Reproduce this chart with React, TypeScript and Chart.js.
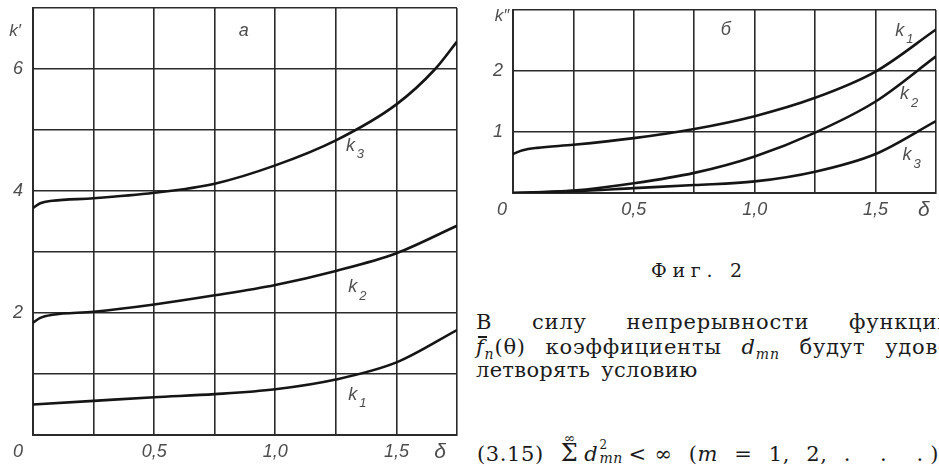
import React, { useEffect, useRef } from "react";
import { Chart, registerables } from "chart.js";

Chart.register(...registerables);

// ---- shared axis data ----
const deltaGrid = [0, 0.25, 0.5, 0.75, 1.0, 1.25, 1.5, 1.75];
const xTickValues = [0.5, 1.0, 1.5];
const xTickText = ["0,5", "1,0", "1,5"];

// ---- chart а : k' ----
const aYGrid = [0, 1, 2, 3, 4, 5, 6, 7];
const aYTickValues = [2, 4, 6];
const aYTickText = ["2", "4", "6"];
const aK1X = [0, 0.25, 0.5, 0.75, 1.0, 1.25, 1.5, 1.75];
const aK1Y = [0.5, 0.56, 0.62, 0.67, 0.75, 0.91, 1.19, 1.72];
const aK2X = [0, 0.03, 0.08, 0.25, 0.5, 0.75, 1.0, 1.25, 1.5, 1.75];
const aK2Y = [1.84, 1.92, 1.97, 2.02, 2.14, 2.29, 2.46, 2.69, 2.98, 3.43];
const aK3X = [0, 0.03, 0.08, 0.25, 0.5, 0.75, 1.0, 1.25, 1.5, 1.66, 1.75];
const aK3Y = [3.72, 3.8, 3.84, 3.88, 3.97, 4.12, 4.42, 4.83, 5.42, 6.0, 6.45];

// ---- chart б : k'' ----
const bYGrid = [0, 1, 2, 3];
const bYTickValues = [1, 2];
const bYTickText = ["1", "2"];
const bK1X = [0, 0.04, 0.1, 0.25, 0.5, 0.75, 1.0, 1.25, 1.5, 1.75];
const bK1Y = [0.64, 0.7, 0.74, 0.79, 0.9, 1.05, 1.26, 1.56, 1.99, 2.68];
const bK2X = [0, 0.25, 0.5, 0.75, 1.0, 1.25, 1.5, 1.75];
const bK2Y = [0.0, 0.04, 0.16, 0.33, 0.6, 0.99, 1.5, 2.24];
const bK3X = [0, 0.25, 0.5, 0.75, 1.0, 1.25, 1.5, 1.75];
const bK3Y = [0.0, 0.03, 0.08, 0.13, 0.19, 0.35, 0.64, 1.18];

// curve labels (data coordinates)
const aLabelNames = ["k|3", "k|2", "k|1", "а"];
const aLabelX = [1.31, 1.32, 1.32, 0.87];
const aLabelY = [4.74, 2.42, 0.66, 6.62];
const bLabelNames = ["k|1", "k|2", "k|3", "б"];
const bLabelX = [1.6, 1.62, 1.63, 0.88];
const bLabelY = [2.66, 1.62, 0.62, 2.67];

const INK = "#151515";
const GRID = "#2b2b2b";
const LABEL = "#4d4d4d";
const SANS = '"Liberation Sans", Arial, sans-serif';

function pts(xs: number[], ys: number[]) {
  return xs.map((x, i) => ({ x, y: ys[i] }));
}

function curve(xs: number[], ys: number[]) {
  return {
    data: pts(xs, ys),
    borderColor: INK,
    borderWidth: 2.6,
    pointRadius: 0,
    fill: false,
    showLine: true,
    cubicInterpolationMode: "monotone" as const,
  };
}

function makeExtras(opts: {
  names: string[]; xs: number[]; ys: number[];
  yTickValues: number[]; yTickText: string[];
  axisName: string; axisDx: number; axisDy: number;
  originDx: number; deltaAt: number;
}) {
  return {
    id: "extras",
    afterDraw(chart: any) {
      const ctx = chart.ctx as CanvasRenderingContext2D;
      const xs = chart.scales.x;
      const ys = chart.scales.y;
      const area = chart.chartArea;
      const f = (s: number) => `italic ${s}px ${SANS}`;
      ctx.save();
      ctx.fillStyle = LABEL;
      ctx.textBaseline = "middle";
      ctx.textAlign = "center";
      // x tick labels
      const ly = area.bottom + 17;
      ctx.font = f(18);
      xTickValues.forEach((v, i) => ctx.fillText(xTickText[i], xs.getPixelForValue(v), ly));
      // y tick labels
      opts.yTickValues.forEach((v, i) => ctx.fillText(opts.yTickText[i], area.left - 15, ys.getPixelForValue(v)));
      // origin "0" and δ
      ctx.fillText("0", area.left + opts.originDx, ly);
      ctx.font = f(21);
      ctx.fillText("δ", xs.getPixelForValue(opts.deltaAt), ly);
      // curve labels
      opts.names.forEach((n, i) => {
        const px = xs.getPixelForValue(opts.xs[i]);
        const py = ys.getPixelForValue(opts.ys[i]);
        const [main, sub] = n.split("|");
        ctx.font = f(18);
        ctx.fillText(main, px, py);
        if (sub) {
          ctx.font = f(13);
          ctx.fillText(sub, px + 10, py + 9);
        }
      });
      // axis name k' / k''
      ctx.font = f(17);
      ctx.fillText(opts.axisName, area.left + opts.axisDx, area.top + opts.axisDy);
      ctx.restore();
    },
  };
}

function makeConfig(datasets: any[], yGrid: number[], yMax: number, padding: any, extras: any) {
  const axisCommon = {
    type: "linear" as const,
    min: 0,
    ticks: { display: false, autoSkip: false },
    grid: { color: GRID, lineWidth: 1.6, drawTicks: false },
    border: { color: GRID, width: 2 },
  };
  return {
    type: "scatter" as const,
    data: { datasets },
    plugins: [extras],
    options: {
      animation: false as const,
      responsive: false,
      maintainAspectRatio: false,
      layout: { padding },
      plugins: { legend: { display: false }, tooltip: { enabled: false }, title: { display: false } },
      scales: {
        x: {
          ...axisCommon,
          max: 1.75,
          afterBuildTicks: (axis: any) => { axis.ticks = deltaGrid.map((v) => ({ value: v })); },
        },
        y: {
          ...axisCommon,
          max: yMax,
          afterBuildTicks: (axis: any) => { axis.ticks = yGrid.map((v) => ({ value: v })); },
        },
      },
    },
  };
}

export default function App() {
  const leftRef = useRef<HTMLCanvasElement>(null);
  const rightRef = useRef<HTMLCanvasElement>(null);

  useEffect(() => {
    const left = new Chart(
      leftRef.current as HTMLCanvasElement,
      makeConfig(
        [curve(aK1X, aK1Y), curve(aK2X, aK2Y), curve(aK3X, aK3Y)],
        aYGrid, 7,
        { left: 33, right: 13, top: 8, bottom: 31 },
        makeExtras({ names: aLabelNames, xs: aLabelX, ys: aLabelY, yTickValues: aYTickValues, yTickText: aYTickText, axisName: "k′", axisDx: -18, axisDy: 23, originDx: -15, deltaAt: 1.68 })
      ) as any
    );
    const right = new Chart(
      rightRef.current as HTMLCanvasElement,
      makeConfig(
        [curve(bK1X, bK1Y), curve(bK2X, bK2Y), curve(bK3X, bK3Y)],
        bYGrid, 3,
        { left: 43, right: 3, top: 10, bottom: 47 },
        makeExtras({ names: bLabelNames, xs: bLabelX, ys: bLabelY, yTickValues: bYTickValues, yTickText: bYTickText, axisName: "k″", axisDx: -11, axisDy: 6, originDx: -11, deltaAt: 1.7 })
      ) as any
    );
    return () => {
      left.destroy();
      right.destroy();
    };
  }, []);

  const serif = '"DejaVu Serif", "Liberation Serif", serif';
  const textLine = { position: "absolute" as const, left: 6, fontSize: 21, lineHeight: "24px", letterSpacing: "0.8px", whiteSpace: "nowrap" as const };
  const justified = { whiteSpace: "normal" as const, textAlign: "justify" as const, textAlignLast: "justify" as any };
  return (
    <div style={{ position: "absolute", left: 0, top: 0, width: 939, height: 466, overflow: "hidden", background: "#fff" }}>
      <canvas ref={leftRef} width={470} height={466} style={{ position: "absolute", left: 0, top: 0 }} />
      <canvas ref={rightRef} width={469} height={240} style={{ position: "absolute", left: 470, top: 0 }} />
      <div style={{ position: "absolute", left: 470, top: 240, width: 469, height: 226, overflow: "hidden", fontFamily: serif, color: "#1b1b1b" }}>
        <div style={{ position: "absolute", left: 181, top: 18, fontSize: 19, lineHeight: "24px", letterSpacing: "0.3em", whiteSpace: "nowrap" }}>
          Фиг. 2
        </div>
        <div style={{ ...textLine, ...justified, width: 476, top: 70 }}>
          В силу непрерывности функций
        </div>
        <div style={{ ...textLine, ...justified, width: 470, top: 95 }}>
          <span style={{ position: "relative", display: "inline-block" }}>
            <i>f</i>
            <span style={{ position: "absolute", left: 2, top: 1, width: 9, height: 1.6, background: "#1b1b1b" }} />
          </span>
          <sub style={{ fontSize: 14, fontStyle: "italic" }}>n</sub>(θ) коэффициенты <i>d</i>
          <sub style={{ fontSize: 14, fontStyle: "italic" }}>mn</sub> будут удов-
        </div>
        <div style={{ ...textLine, top: 118, letterSpacing: "0.3px", wordSpacing: "4px" }}>
          летворять условию
        </div>
        <div style={{ position: "absolute", left: 7, top: 197, fontSize: 21, lineHeight: "24px", whiteSpace: "nowrap", letterSpacing: "0.6px" }}>
          <span>(3.15)</span>
          <span style={{ position: "relative", display: "inline-block", marginLeft: 17, fontSize: 24 }}>
            <span style={{ position: "absolute", left: 3, top: -15, fontSize: 14 }}>∞</span>Σ
          </span>
          <span style={{ marginLeft: 6 }}><i>d</i></span>
          <span style={{ position: "relative", display: "inline-block", width: 30, height: 24 }}>
            <span style={{ position: "absolute", left: 1, top: -4, fontSize: 12, fontStyle: "normal" }}>2</span>
            <span style={{ position: "absolute", left: 1, top: 9, fontSize: 14, fontStyle: "italic" }}>mn</span>
          </span>
          <span>&lt;</span>
          <span style={{ marginLeft: 8 }}>∞</span>
          <span style={{ marginLeft: 16, wordSpacing: "9px" }}>
            (<i>m</i> = 1, 2, <span style={{ letterSpacing: "7px" }}>. . .</span>)
          </span>
        </div>
      </div>
    </div>
  );
}
